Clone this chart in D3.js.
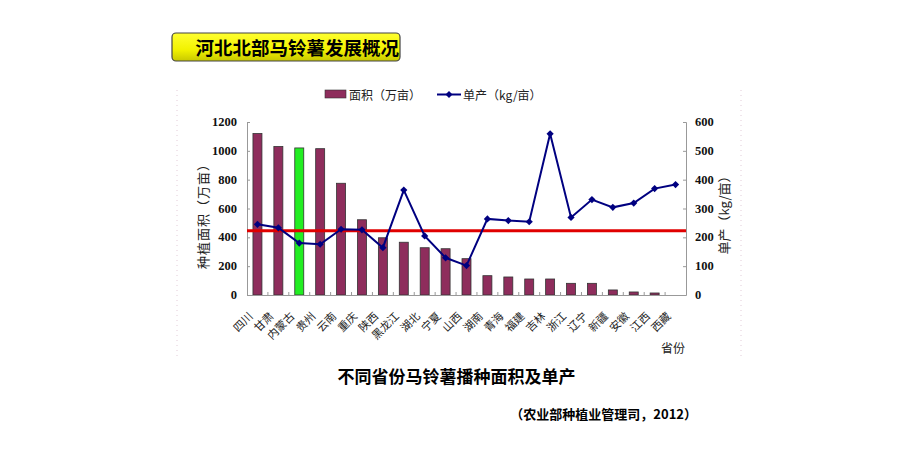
<!DOCTYPE html>
<html><head><meta charset="utf-8">
<script src="https://cdn.jsdelivr.net/npm/d3@7"></script>
<style>body{margin:0;background:#fff}svg{display:block}</style>
</head><body>
<svg id="c" width="920" height="460"></svg>
<script>
const provinces = ["四川","甘肃","内蒙古","贵州","云南","重庆","陕西","黑龙江","湖北","宁夏","山西","湖南","青海","福建","吉林","浙江","辽宁","新疆","安徽","江西","西藏"];
const area = [1120,1030,1020,1015,775,522,397,366,328,321,252,134,125,111,111,81,81,35,21,14,0];
const yieldKg = [245,233,180,176,228,226,164,364,205,129,102,264,258,254,559,269,331,304,319,369,383];
const highlight = ["内蒙古"];
const avgYield = 223;
const leftTicks = [0,200,400,600,800,1000,1200];
const rightTicks = [0,100,200,300,400,500,600];

const svg = d3.select("#c");
const serif = "'Liberation Serif','DejaVu Serif',serif";
const cjk = "'Noto Sans CJK SC','Noto Sans',sans-serif";

const x = d3.scaleBand().domain(provinces).range([247,686]).paddingInner(0.57).paddingOuter(0.285);
const yL = d3.scaleLinear().domain([0,1200]).range([295,122]);
const yR = d3.scaleLinear().domain([0,600]).range([295,122]);

// faint dotted frame lines
[177,741].forEach(xx=>svg.append("line").attr("x1",xx).attr("x2",xx).attr("y1",90).attr("y2",357)
  .attr("stroke","#e2cbd8").attr("stroke-width",1).attr("stroke-dasharray","1,4"));

// title box
const defs = svg.append("defs");
const g1 = defs.append("linearGradient").attr("id","yg").attr("x1",0).attr("y1",0).attr("x2",0).attr("y2",1);
g1.append("stop").attr("offset","0%").attr("stop-color","#ffff30");
g1.append("stop").attr("offset","60%").attr("stop-color","#f2f200");
g1.append("stop").attr("offset","100%").attr("stop-color","#c8c800");
svg.append("rect").attr("x",172).attr("y",33).attr("width",228).attr("height",28).attr("rx",4)
  .attr("fill","url(#yg)").attr("stroke","#444").attr("stroke-width",1.2);
svg.append("text").attr("x",399).attr("y",47).attr("text-anchor","end").attr("dominant-baseline","central")
  .attr("font-family",cjk).attr("font-weight","bold").attr("font-size",18.5).attr("fill","#000")
  .text("河北北部马铃薯发展概况");

// legend
svg.append("rect").attr("x",325).attr("y",90).attr("width",21).attr("height",8).attr("fill","#8e2d5c").attr("stroke","#333").attr("stroke-width",0.6);
svg.append("text").attr("x",349).attr("y",94.5).attr("dominant-baseline","central").attr("font-family",cjk).attr("font-size",12).attr("fill","#222").text("面积（万亩）");
svg.append("line").attr("x1",437).attr("x2",461).attr("y1",94.5).attr("y2",94.5).attr("stroke","#000080").attr("stroke-width",2);
svg.append("path").attr("d",d3.symbol(d3.symbolSquare,24)()).attr("transform","translate(449,94.5) rotate(45)").attr("fill","#000080");
svg.append("text").attr("x",463).attr("y",94.5).attr("dominant-baseline","central").attr("font-family",cjk).attr("font-size",12).attr("fill","#222").text("单产（kg/亩）");

// bars
svg.append("g").selectAll("rect").data(provinces).join("rect")
  .attr("x",(d)=>x(d)).attr("width",x.bandwidth())
  .attr("y",(d,i)=>yL(area[i])).attr("height",(d,i)=>yL(0)-yL(area[i]))
  .attr("fill",d=>highlight.includes(d)?"#22ee22":"#8e2d5c")
  .attr("stroke","#333").attr("stroke-width",0.8)
  .attr("display",(d,i)=>area[i]>0?null:"none");

// axes
const axisCol = "#999";
const gl = svg.append("g").attr("transform","translate(247,0)").call(d3.axisRight(yL).tickValues(leftTicks).tickSize(3).tickFormat(""));
const gr = svg.append("g").attr("transform","translate(686,0)").call(d3.axisLeft(yR).tickValues(rightTicks).tickSize(3).tickFormat(""));
[gl,gr].forEach(g=>{g.select(".domain").attr("stroke",axisCol);g.selectAll(".tick line").attr("stroke",axisCol);});
svg.append("line").attr("x1",247).attr("x2",686).attr("y1",295.5).attr("y2",295.5).attr("stroke",axisCol);
const gap = x.step()*x.paddingInner()/2;
svg.append("g").selectAll("line").data(provinces.slice(1)).join("line")
  .attr("x1",d=>x(d)-gap).attr("x2",d=>x(d)-gap)
  .attr("y1",292).attr("y2",295).attr("stroke",axisCol);

// tick labels
svg.append("g").selectAll("text").data(leftTicks).join("text")
  .attr("x",237).attr("y",d=>yL(d)).attr("text-anchor","end").attr("dominant-baseline","central")
  .attr("font-family",serif).attr("font-weight","bold").attr("font-size",12.5).attr("fill","#111").text(d=>d);
svg.append("g").selectAll("text").data(rightTicks).join("text")
  .attr("x",695).attr("y",d=>yR(d)).attr("dominant-baseline","central")
  .attr("font-family",serif).attr("font-weight","bold").attr("font-size",12.5).attr("fill","#111").text(d=>d);

// x labels
svg.append("g").selectAll("text").data(provinces).join("text")
  .attr("transform",d=>`translate(${x(d)+x.bandwidth()/2-7.5},313.5) rotate(-45)`)
  .attr("text-anchor","end").attr("dominant-baseline","central")
  .attr("font-family",cjk).attr("font-size",11).attr("fill","#222").text(d=>d);
svg.append("text").attr("x",685).attr("y",347).attr("text-anchor","end").attr("dominant-baseline","central")
  .attr("font-family",cjk).attr("font-size",12).attr("fill","#222").text("省份");

// axis titles
svg.append("text").attr("transform","translate(202,213) rotate(-90)").attr("text-anchor","middle").attr("dominant-baseline","central")
  .attr("font-family",cjk).attr("font-size",13).attr("letter-spacing",1).attr("fill","#222").text("种植面积（万亩）");
svg.append("text").attr("transform","translate(723,212) rotate(-90)").attr("text-anchor","middle").attr("dominant-baseline","central")
  .attr("font-family",cjk).attr("font-size",13).attr("fill","#222").text("单产（kg/亩）");

// average red line
svg.append("line").attr("x1",247).attr("x2",686).attr("y1",yR(avgYield)).attr("y2",yR(avgYield))
  .attr("stroke","#e00000").attr("stroke-width",3);

// yield line
const cx = d=>x(d)+x.bandwidth()/2;
svg.append("path").datum(provinces).attr("fill","none").attr("stroke","#000080").attr("stroke-width",2)
  .attr("d",d3.line().x(d=>cx(d)).y((d,i)=>yR(yieldKg[i])));
svg.append("g").selectAll("path").data(provinces).join("path")
  .attr("d",d3.symbol(d3.symbolSquare,26)())
  .attr("transform",(d,i)=>`translate(${cx(d)},${yR(yieldKg[i])}) rotate(45)`).attr("fill","#000080");

// captions
svg.append("text").attr("x",456.5).attr("y",375).attr("text-anchor","middle").attr("dominant-baseline","central")
  .attr("font-family",cjk).attr("font-weight","bold").attr("font-size",17).attr("fill","#000").text("不同省份马铃薯播种面积及单产");
svg.append("text").attr("x",697).attr("y",413).attr("text-anchor","end").attr("dominant-baseline","central")
  .attr("font-family",cjk).attr("font-weight","bold").attr("font-size",13).attr("fill","#000").text("（农业部种植业管理司，2012）");
</script>
</body></html>
